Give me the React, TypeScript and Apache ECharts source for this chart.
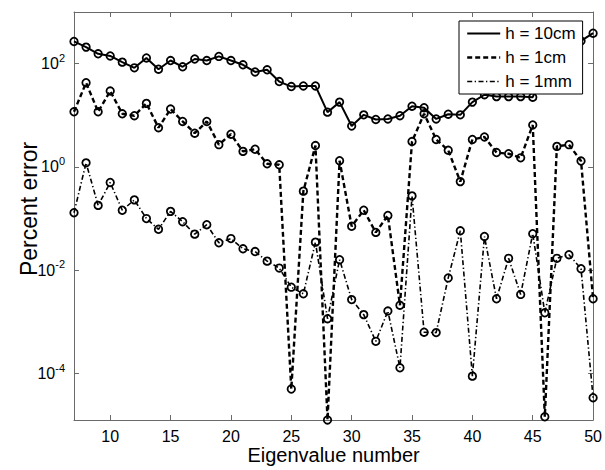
import React, { useEffect, useRef } from 'react';
import * as echarts from 'echarts';

const eigenNumbers = [7, 8, 9, 10, 11, 12, 13, 14, 15, 16, 17, 18, 19, 20, 21, 22, 23, 24, 25, 26, 27, 28, 29, 30, 31, 32, 33, 34, 35, 36, 37, 38, 39, 40, 41, 42, 43, 44, 45, 46, 47, 48, 49, 50];

const err10cm = [269, 209, 155, 141, 107, 83, 129, 78, 115, 87, 123, 115, 138, 115, 95, 69, 76, 45, 36, 37, 37, 11.5, 18, 6.2, 10.2, 8.3, 8.5, 9.8, 15, 14, 8.5, 10.5, 10.2, 18, 25, 23, 23, 23, 22.4, 80, 126, 200, 275, 389];

const err1cm = [11.7, 42.7, 11.7, 29.5, 10.7, 9.8, 17, 5.75, 13.2, 7.6, 4.5, 7.6, 2.7, 4.3, 2.0, 2.2, 1.15, 1.1, 5.0e-5, 0.34, 2.6, 1.26e-5, 1.32, 0.071, 0.145, 0.054, 0.115, 0.0021, 3.1, 10.7, 3.4, 2.1, 0.52, 3.4, 3.8, 1.9, 1.8, 1.5, 6.5, 1.45e-5, 2.5, 2.7, 1.3, 0.0028];

const err1mm = [0.13, 1.2, 0.18, 0.5, 0.145, 0.23, 0.1, 0.062, 0.138, 0.087, 0.05, 0.076, 0.034, 0.041, 0.026, 0.023, 0.015, 0.011, 0.0047, 0.0035, 0.035, 0.00115, 0.016, 0.0027, 0.00138, 0.00042, 0.00162, 0.000129, 0.275, 0.00063, 0.00062, 0.0071, 0.058, 0.000089, 0.045, 0.0028, 0.017, 0.0034, 0.051, 0.0015, 0.017, 0.02, 0.0107, 0.000034];

const seriesNames = ['h = 10cm', 'h = 1cm', 'h = 1mm'];
const yTickExponents = [-4, -2, 0, 2];
const xTickLabels = [10, 15, 20, 25, 30, 35, 40, 45, 50];

const FONT = '"Liberation Sans", Arial, Helvetica, sans-serif';
const AXIS_COLOR = '#6a6a6a';

const toPoints = (vals: number[]) => eigenNumbers.map((n, i) => [n, Math.log10(vals[i])]);

export default function App() {
  const ref = useRef<HTMLDivElement>(null);
  useEffect(() => {
    if (!ref.current) return;
    const chart = echarts.init(ref.current, null, { renderer: 'svg' });
    const axisLine = { show: true, onZero: false, lineStyle: { color: AXIS_COLOR, width: 1 } };
    const axisTick = { show: true, inside: true, length: 5, lineStyle: { color: AXIS_COLOR, width: 1 } };
    const xCommon = { type: 'value', min: 7, max: 50, splitNumber: 8, splitLine: { show: false } };
    const yCommon = { type: 'value', min: -4.9, max: 3, splitNumber: 4, splitLine: { show: false } };
    const marker = { symbol: 'circle', symbolSize: 7.5, itemStyle: { color: 'rgba(0,0,0,0)', borderColor: '#000', borderWidth: 1.8 } };
    const lineStyles = [
      { color: '#000', width: 2, type: 'solid' },
      { color: '#000', width: 2.4, type: [5, 3] },
      { color: '#000', width: 1.6, type: [5, 2.5, 1.3, 2.5] },
    ];
    const datasets = [err10cm, err1cm, err1mm];
    chart.setOption({
      animation: false,
      backgroundColor: '#fff',
      grid: { left: 74, right: 9, top: 12, height: 410 },
      xAxis: [
        {
          ...xCommon,
          position: 'bottom',
          axisLine,
          axisTick,
          axisLabel: {
            color: '#000',
            fontFamily: FONT,
            fontSize: 16,
            margin: 8,
            formatter: (v: number) => (xTickLabels.includes(Math.round(v)) && Math.abs(v - Math.round(v)) < 1e-6 ? String(Math.round(v)) : ''),
          },
          name: 'Eigenvalue number',
          nameLocation: 'middle',
          nameGap: 25,
          nameMoveOverlap: false,
          nameTextStyle: { color: '#000', fontFamily: FONT, fontSize: 20, verticalAlign: 'top' },
        },
        { ...xCommon, position: 'top', axisLine, axisTick, axisLabel: { show: false } },
      ],
      yAxis: [
        {
          ...yCommon,
          position: 'left',
          axisLine,
          axisTick,
          axisLabel: {
            color: '#000',
            fontFamily: FONT,
            margin: 9,
            formatter: (v: number) => {
              const r = Math.round(v);
              if (Math.abs(v - r) > 1e-6 || !yTickExponents.includes(r)) return '';
              return `{b|10}{e|${r}}`;
            },
            rich: {
              b: { fontFamily: FONT, fontSize: 16, color: '#000', lineHeight: 18 },
              e: { fontFamily: FONT, fontSize: 11, color: '#000', lineHeight: 18, padding: [0, 0, 12, 0] },
            },
          },
          name: 'Percent error',
          nameLocation: 'middle',
          nameGap: 34,
          nameMoveOverlap: false,
          nameTextStyle: { color: '#000', fontFamily: FONT, fontSize: 23, padding: [0, 0, 0, 14] },
        },
        { ...yCommon, position: 'right', axisLine, axisTick, axisLabel: { show: false } },
      ],
      legend: {
        orient: 'vertical',
        left: 459,
        top: 21,
        backgroundColor: '#fff',
        borderColor: '#000',
        borderWidth: 1,
        padding: [4, 7, 4, 7],
        itemWidth: 33,
        itemHeight: 14,
        itemGap: 7,
        data: seriesNames,
        textStyle: { color: '#000', fontFamily: FONT, fontSize: 17 },
        itemStyle: { color: 'rgba(0,0,0,0)', borderColor: 'rgba(0,0,0,0)', borderWidth: 0 },
        lineStyle: { width: 'inherit', type: 'inherit', color: 'inherit' },
      },
      series: seriesNames.map((name, k) => ({
        name,
        type: 'line',
        xAxisIndex: 0,
        yAxisIndex: 0,
        data: toPoints(datasets[k]),
        ...marker,
        lineStyle: lineStyles[k],
        z: 2 + k,
      })),
    });
    return () => chart.dispose();
  }, []);
  return <div ref={ref} style={{ position: 'fixed', left: 0, top: 0, width: 605, height: 470 }} />;
}
